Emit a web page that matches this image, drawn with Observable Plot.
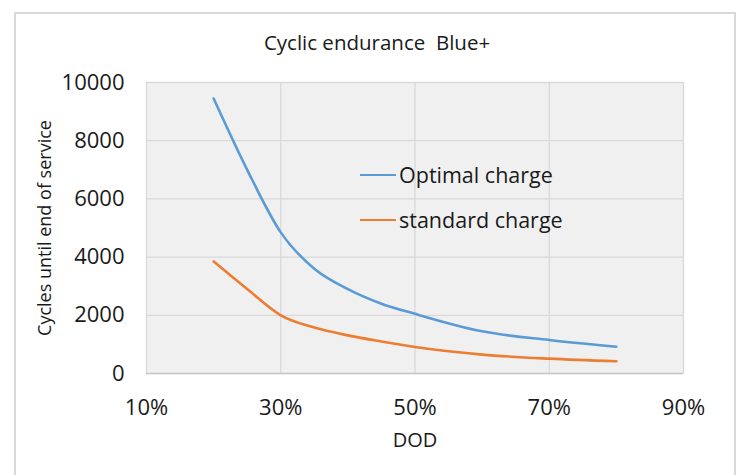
<!DOCTYPE html>
<html>
<head>
<meta charset="utf-8">
<script src="https://cdn.jsdelivr.net/npm/d3@7"></script>
<script src="https://cdn.jsdelivr.net/npm/@observablehq/plot@0.6"></script>
<style>
  html, body { margin: 0; padding: 0; background: #fff; }
  body { width: 740px; height: 475px; overflow: hidden; position: relative; font-family: "Open Sans", sans-serif; color: #1a1a1a; }
  #border { position: absolute; left: 14px; top: 12px; width: 722px; height: 480px; border: 2px solid #d9d9d9; box-sizing: border-box; }
  #chart { position: absolute; left: 0; top: 0; }
  #title { position: absolute; left: 0; width: 754px; top: 28px; text-align: center; font-size: 20.5px; line-height: 28px; }
  #xlabel { position: absolute; left: 0; width: 830px; top: 426px; text-align: center; font-size: 20px; line-height: 28px; }
  #ylabel { position: absolute; left: 44px; top: 228px; font-size: 18px; line-height: 24px; white-space: nowrap; transform: translate(-50%, -50%) rotate(-90deg); }
  .leg { position: absolute; left: 360px; font-size: 21.5px; line-height: 30px; display: flex; align-items: center; }
  .leg span.sw { display: inline-block; width: 36px; height: 2.5px; margin-right: 3px; }
</style>
</head>
<body>
<div id="border"></div>
<div id="chart"></div>
<div id="title">Cyclic endurance&nbsp; Blue+</div>
<div id="xlabel">DOD</div>
<div id="ylabel">Cycles until end of service</div>
<div class="leg" style="top:160px"><span class="sw" style="background:#5b9bd5"></span>Optimal charge</div>
<div class="leg" style="top:205px"><span class="sw" style="background:#ed7d31"></span>standard charge</div>
<script>
const dod = [0.20, 0.25, 0.30, 0.35, 0.40, 0.45, 0.50, 0.60, 0.70, 0.80];
const optimal = [9450, 7000, 4850, 3600, 2900, 2400, 2050, 1450, 1150, 920];
const standard = [3850, 2900, 2000, 1580, 1310, 1100, 910, 650, 510, 420];
const seriesNames = ["Optimal charge", "standard charge"];
const colors = ["#5b9bd5", "#ed7d31"];
const xTicks = [0.1, 0.3, 0.5, 0.7, 0.9];
const yTicks = [0, 2000, 4000, 6000, 8000, 10000];

const data = [
  ...dod.map((d, i) => ({dod: d, cycles: optimal[i], series: seriesNames[0]})),
  ...dod.map((d, i) => ({dod: d, cycles: standard[i], series: seriesNames[1]}))
];

const chart = Plot.plot({
  width: 740,
  height: 475,
  marginLeft: 146,
  marginRight: 57,
  marginTop: 82,
  marginBottom: 102,
  style: {fontFamily: "Open Sans, sans-serif", fontSize: "22px", color: "#1a1a1a", background: "transparent", overflow: "visible"},
  x: {domain: [0.1, 0.9]},
  y: {domain: [0, 10000]},
  color: {domain: seriesNames, range: colors},
  marks: [
    Plot.frame({fill: "#f0f0f0", stroke: "#dcdcdc"}),
    Plot.gridX(xTicks, {stroke: "#d9d9d9", strokeOpacity: 1, strokeWidth: 1.3}),
    Plot.gridY(yTicks, {stroke: "#d9d9d9", strokeOpacity: 1, strokeWidth: 1.3}),
    Plot.ruleY([0], {stroke: "#c8c8c8", strokeWidth: 1.5}),
    Plot.axisX({ticks: xTicks, tickFormat: d3.format(".0%"), tickSize: 0, tickPadding: 26, label: null}),
    Plot.axisY({ticks: yTicks, tickFormat: d => String(d), tickSize: 0, tickPadding: 22, label: null}),
    Plot.line(data, {x: "dod", y: "cycles", stroke: "series", z: "series", strokeWidth: 2.6, curve: "monotone-x"})
  ]
});
document.getElementById("chart").appendChild(chart);
</script>
</body>
</html>
